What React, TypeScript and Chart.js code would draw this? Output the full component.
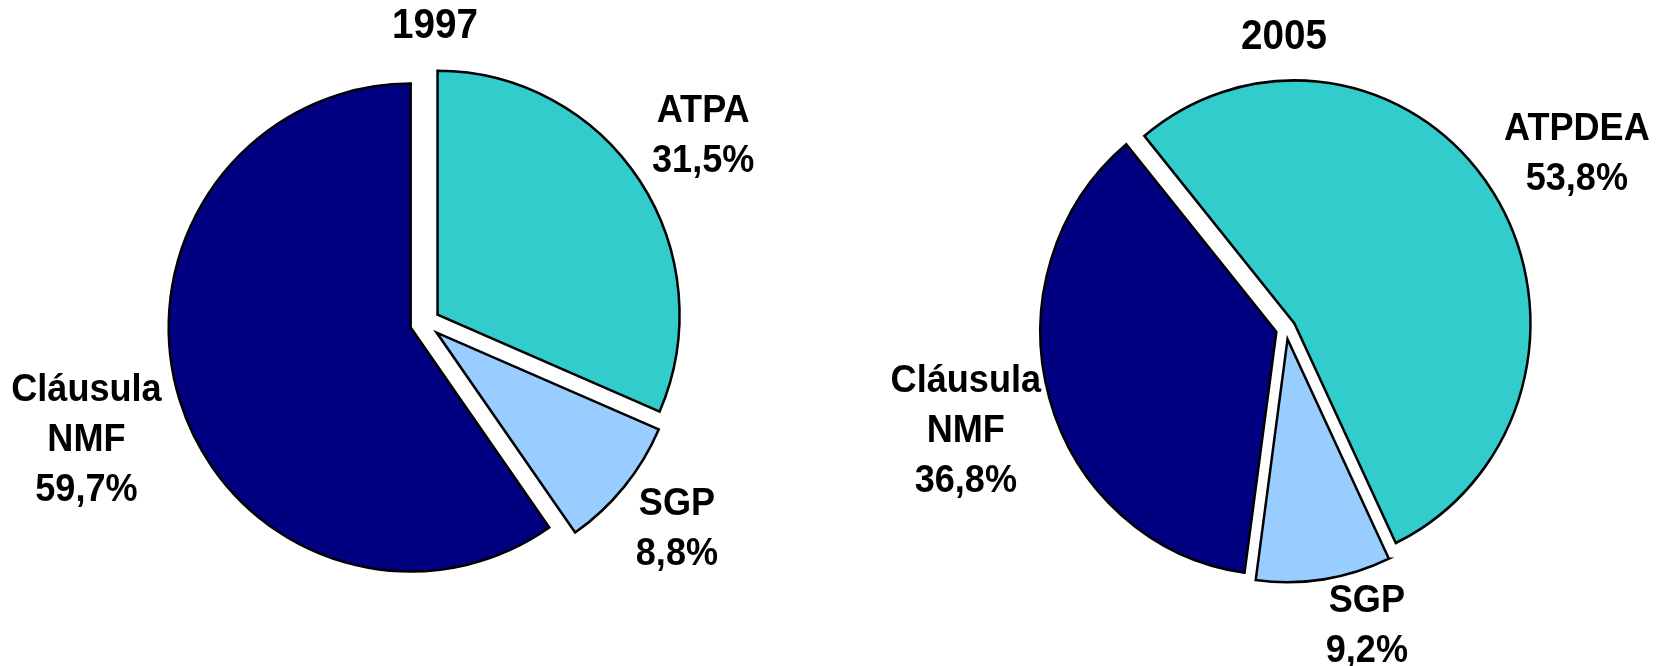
import React, { useEffect, useRef } from 'react';
import { Chart, PieController, ArcElement } from 'chart.js';

Chart.register(PieController, ArcElement);

// ---- data ----
const categories1997 = ['ATPA', 'SGP', 'Cláusula NMF'];
const values1997 = [31.5, 8.8, 59.7];
const categories2005 = ['ATPDEA', 'SGP', 'Cláusula NMF'];
const values2005 = [53.8, 9.2, 36.8];
const titles = ['1997', '2005'];
const sliceColors = ['#33CCCC', '#99CCFF', '#000080'];

const FONT = '"Liberation Sans", Arial, Helvetica, sans-serif';

type Spec = {
  title: string;
  categories: string[];
  values: number[];
  rotation: number;
  radius: number;
  scaleY: number;
  padding: { left: number; right: number; top: number; bottom: number };
  explode: number;
  labelDist: number[];
  labelShift: number[][];
  titleDx: number;
  titleY: number;
  left: number;
};

const CW = 832;
const CH = 666;

const specs: Spec[] = [
  {
    title: titles[0],
    categories: categories1997,
    values: values1997,
    rotation: 0,
    radius: 242,
    scaleY: 1.008,
    padding: { left: 18, right: 0, top: 0, bottom: 20 },
    explode: 15,
    labelDist: [334, 324, 357],
    labelShift: [[-1, -3], [1, 2], [2, 10]],
    titleDx: 10,
    titleY: 26,
    left: 0,
  },
  {
    title: titles[1],
    categories: categories2005,
    values: values2005,
    rotation: -39.5,
    radius: 236,
    scaleY: 1.03,
    padding: { left: 76, right: 0, top: 0, bottom: 8 },
    explode: 10,
    labelDist: [340, 305, 336],
    labelShift: [[4, 8], [34, -4], [3, 11]],
    titleDx: -2,
    titleY: 37,
    left: 832,
  },
];

const fmt = (v: number) => v.toFixed(1).replace('.', ',') + '%';

function makePlugin(spec: Spec) {
  return {
    id: 'pieDecor',
    beforeDatasetsDraw(chart: any) {
      const ctx = chart.ctx as CanvasRenderingContext2D;
      const meta = chart.getDatasetMeta(0);
      const first: any = meta.data[0];
      ctx.save();
      if (first) {
        ctx.translate(first.x, first.y);
        ctx.scale(1, spec.scaleY);
        ctx.translate(-first.x, -first.y);
      }
      meta.data.forEach((arc: any) => {
        const mid = (arc.startAngle + arc.endAngle) / 2;
        ctx.save();
        ctx.translate(Math.cos(mid) * spec.explode, Math.sin(mid) * spec.explode);
        arc.draw(ctx);
        ctx.restore();
      });
      ctx.restore();
      return false;
    },
    afterDraw(chart: any) {
      const ctx = chart.ctx as CanvasRenderingContext2D;
      const meta = chart.getDatasetMeta(0);
      ctx.save();
      ctx.fillStyle = '#000';
      ctx.textAlign = 'center';
      ctx.textBaseline = 'middle';
      const fs = 38;
      const lh = 50;
      ctx.font = `bold ${fs}px ${FONT}`;
      let cx0 = 0;
      meta.data.forEach((arc: any, i: number) => {
        const mid = (arc.startAngle + arc.endAngle) / 2;
        cx0 = arc.x;
        const d = spec.labelDist[i];
        const lx = arc.x + Math.cos(mid) * d + spec.labelShift[i][0];
        const ly = arc.y + Math.sin(mid) * d + spec.labelShift[i][1];
        const lines = [...spec.categories[i].split(' '), fmt(spec.values[i])];
        lines.forEach((line, j) => {
          const y = ly + (j - (lines.length - 1) / 2) * lh;
          ctx.save();
          ctx.translate(lx, y);
          ctx.scale(0.95, 1);
          ctx.fillText(line, 0, 0);
          ctx.restore();
        });
      });
      ctx.font = `bold 42px ${FONT}`;
      ctx.save();
      ctx.translate(cx0 + spec.titleDx, spec.titleY);
      ctx.scale(0.92, 1);
      ctx.fillText(spec.title, 0, 0);
      ctx.restore();
      ctx.restore();
    },
  };
}

function PieCanvas({ spec }: { spec: Spec }) {
  const ref = useRef<HTMLCanvasElement | null>(null);
  useEffect(() => {
    if (!ref.current) return;
    const chart = new Chart(ref.current, {
      type: 'pie',
      data: {
        labels: spec.categories,
        datasets: [
          {
            data: spec.values,
            backgroundColor: sliceColors,
            borderColor: '#000000',
            borderWidth: 2.5,
            borderJoinStyle: 'miter',
            hoverOffset: 0,
            offset: 0,
          } as any,
        ],
      },
      options: {
        responsive: false,
        animation: false,
        rotation: spec.rotation,
        radius: spec.radius,
        layout: { padding: spec.padding },
        events: [],
        plugins: { legend: { display: false }, tooltip: { enabled: false } },
      } as any,
      plugins: [makePlugin(spec)],
    });
    return () => chart.destroy();
  }, [spec]);
  return (
    <canvas
      ref={ref}
      width={CW}
      height={CH}
      style={{ position: 'absolute', left: spec.left, top: 0, width: CW, height: CH }}
    />
  );
}

export default function App() {
  useEffect(() => {
    document.body.style.margin = '0';
  }, []);
  return (
    <div style={{ position: 'relative', width: 1664, height: 666, background: '#fff', overflow: 'hidden' }}>
      {specs.map((s) => (
        <PieCanvas key={s.title} spec={s} />
      ))}
    </div>
  );
}
